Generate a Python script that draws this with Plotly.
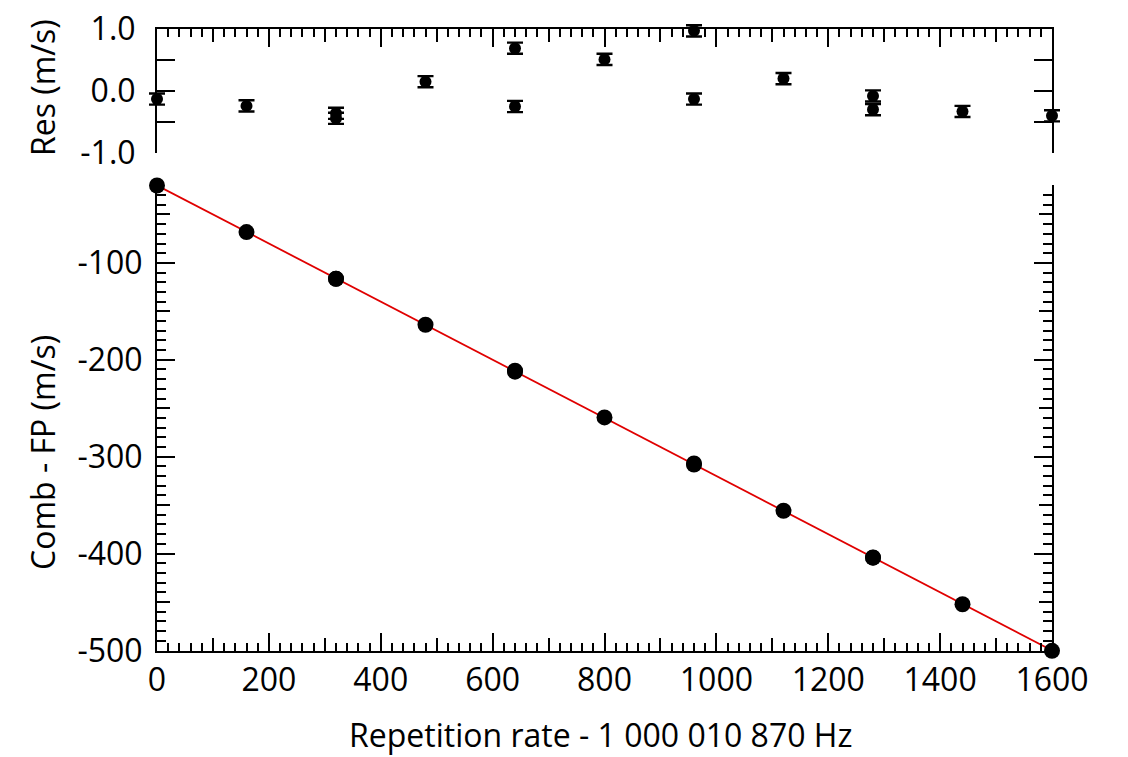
import numpy as np
import plotly.graph_objects as go

# ---- data ----
rep_rate = [0, 160, 320, 320, 480, 640, 640, 800, 960, 960, 1120, 1280, 1280, 1440, 1600]
comb_fp = [-20.13, -68.24, -116.36, -116.44, -163.85, -211.31, -212.25, -259.49,
           -307.03, -308.13, -355.80, -404.08, -404.30, -452.33, -500.40]
residual = [-0.13, -0.24, -0.36, -0.44, 0.15, 0.69, -0.25, 0.51,
            0.97, -0.13, 0.20, -0.08, -0.30, -0.33, -0.40]
residual_err = [0.09] * len(residual)

main_tickvals = [-500, -400, -300, -200, -100]
main_ticktext = ["-500", "-400", "-300", "-200", "-100"]
res_tickvals = [-1, -0.5, 0, 0.5, 1]
res_ticktext = ["-1.0", "", "0.0", "", "1.0"]

x_title = "Repetition rate - 1 000 010 870 Hz"
y_title = "Comb - FP (m/s)"
res_title = "Res (m/s)"

slope, intercept = np.polyfit(rep_rate, comb_fp, 1)
fit_x = [0, 1600]
fit_y = [intercept + slope * v for v in fit_x]

FONT = "Open Sans"
BLACK = "#000000"
FS = 32
W, H = 1128, 757
ml, mr, mt, mb = 100, 40, 10, 100
pw = W - ml - mr
ph = H - mt - mb


def fx(px):
    return (px - ml) / pw


def fy(py):
    return (H - mb - py) / ph


# pixel frame of the reference
X0, X1 = 157, 1052            # x = 0 and x = 1600
XR = [0, 1600]
B_BOT, B_TOP = 651, 185       # bottom panel
B_RANGE = [-500.6, -19.6]
T_TOP, T_BOT = 29, 153        # top panel (1.0 .. -1.0)
T_RANGE = [-1, 1]

# hidden axes for residual points (wider clip area so edge error bars show)
xs = (XR[1] - XR[0]) / (X1 - X0)
x5_range = [XR[0] - (X0 - ml) * xs, XR[1] + (W - mr - X1) * xs]
ys = (T_RANGE[1] - T_RANGE[0]) / (T_BOT - T_TOP)
y5_top_px, y5_bot_px = mt, 170
y5_range = [T_RANGE[0] - (y5_bot_px - T_BOT) * ys, T_RANGE[1] + (T_TOP - y5_top_px) * ys]

fig = go.Figure()

fig.add_trace(go.Scatter(x=fit_x, y=fit_y, mode="lines",
                         line=dict(color="#e00000", width=1.8),
                         xaxis="x", yaxis="y", cliponaxis=False, showlegend=False))
fig.add_trace(go.Scatter(x=rep_rate, y=comb_fp, mode="markers",
                         marker=dict(color=BLACK, size=16),
                         xaxis="x", yaxis="y", cliponaxis=False, showlegend=False))
fig.add_trace(go.Scatter(x=rep_rate, y=residual, mode="markers",
                         marker=dict(color=BLACK, size=12),
                         error_y=dict(type="data", array=residual_err, color=BLACK,
                                      thickness=2.4, width=8),
                         xaxis="x5", yaxis="y5", cliponaxis=False, showlegend=False))
# helpers for extra tick levels
fig.add_trace(go.Scatter(x=[None], y=[None], xaxis="x3", yaxis="y", showlegend=False, hoverinfo="skip"))
fig.add_trace(go.Scatter(x=[None], y=[None], xaxis="x", yaxis="y3", showlegend=False, hoverinfo="skip"))
fig.add_trace(go.Scatter(x=[None], y=[None], xaxis="x4", yaxis="y2", showlegend=False, hoverinfo="skip"))
fig.add_trace(go.Scatter(x=[None], y=[None], xaxis="x2", yaxis="y2", showlegend=False, hoverinfo="skip"))

tickfont = dict(family=FONT, size=FS, color=BLACK)
titlefont = dict(family=FONT, size=FS, color=BLACK)
common = dict(showgrid=False, zeroline=False, linecolor=BLACK, linewidth=2,
              tickcolor=BLACK, tickwidth=2, ticks="inside", automargin=False)
xdom = [fx(X0), fx(X1)]
bdom = [fy(B_BOT), fy(B_TOP)]
tdom = [fy(T_BOT), fy(T_TOP)]

fig.update_layout(
    width=W, height=H,
    margin=dict(l=ml, r=mr, t=mt, b=mb, autoexpand=False),
    paper_bgcolor="white", plot_bgcolor="rgba(0,0,0,0)",
    font=dict(family=FONT, color=BLACK),
    xaxis=dict(**common, domain=xdom, range=XR, anchor="y",
               showline=True, mirror=False, tick0=0, dtick=200, ticklen=18,
               minor=dict(ticks="inside", dtick=20, tick0=0, ticklen=8,
                          tickcolor=BLACK, tickwidth=2),
               tickfont=tickfont),
    xaxis3=dict(**common, domain=xdom, overlaying="x", anchor="y",
                range=XR, showline=False, tick0=100, dtick=200, ticklen=13,
                showticklabels=False),
    yaxis=dict(**common, domain=bdom, range=B_RANGE, anchor="x",
               showline=True, mirror="ticks", tickmode="array",
               tickvals=main_tickvals, ticktext=main_ticktext, ticklen=18,
               tickfont=tickfont, ticklabelstandoff=6),
    yaxis3=dict(**common, domain=bdom, overlaying="y", anchor="x", range=B_RANGE,
                showline=False, mirror="ticks", tick0=-450, dtick=100, ticklen=13,
                minor=dict(ticks="inside", dtick=10, tick0=-500, ticklen=9,
                           tickcolor=BLACK, tickwidth=2),
                showticklabels=False),
    xaxis2=dict(**common, domain=xdom, range=XR, anchor="y2", side="top",
                showline=True, mirror=False, tick0=0, dtick=200, ticklen=18,
                minor=dict(ticks="inside", dtick=20, tick0=0, ticklen=8,
                           tickcolor=BLACK, tickwidth=2),
                showticklabels=False),
    xaxis4=dict(**common, domain=xdom, overlaying="x2", anchor="y2", side="top", range=XR,
                showline=False, tick0=100, dtick=200, ticklen=13, showticklabels=False),
    yaxis2=dict(**common, domain=tdom, range=T_RANGE, anchor="x2",
                showline=True, mirror="ticks", ticklen=18, tickmode="array",
                tickvals=res_tickvals, ticktext=res_ticktext,
                tickfont=tickfont, ticklabelstandoff=13),
    xaxis5=dict(domain=[0, 1], range=x5_range, anchor="y5", visible=False, automargin=False),
    yaxis5=dict(domain=[fy(y5_bot_px), fy(y5_top_px)], range=y5_range, anchor="x5",
                visible=False, automargin=False),
    annotations=[
        dict(text=x_title, xref="paper", yref="paper", x=fx(600), y=fy(735),
             xanchor="center", yanchor="middle", showarrow=False,
             font=dict(family=FONT, size=32, color=BLACK)),
        dict(text=y_title, xref="paper", yref="paper", x=fx(42), y=fy(453),
             xanchor="center", yanchor="middle", showarrow=False, textangle=-90,
             font=titlefont),
        dict(text=res_title, xref="paper", yref="paper", x=fx(42), y=fy(88),
             xanchor="center", yanchor="middle", showarrow=False, textangle=-90,
             font=titlefont),
    ],
)

fig.write_html("out.html")
